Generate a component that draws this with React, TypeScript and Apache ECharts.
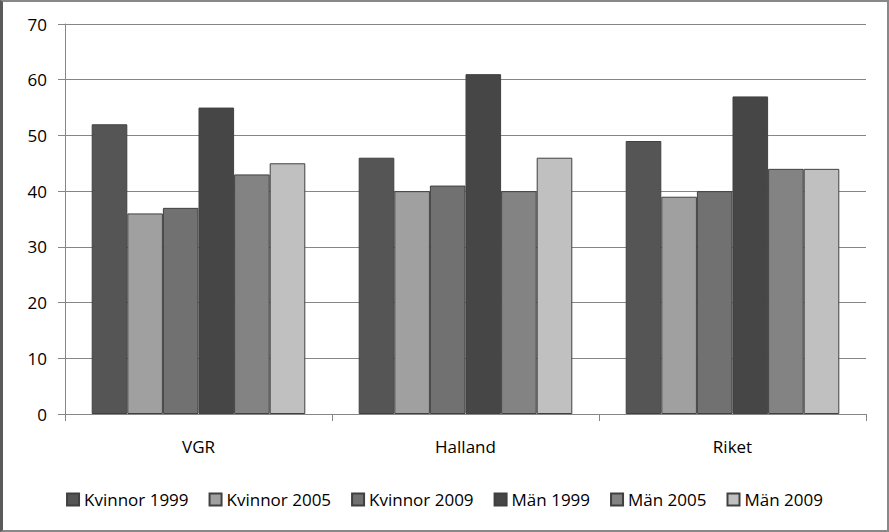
import React, { useEffect, useRef } from "react";
import * as echarts from "echarts";

const categories = ["VGR", "Halland", "Riket"];
const seriesNames = ["Kvinnor 1999", "Kvinnor 2005", "Kvinnor 2009", "Män 1999", "Män 2005", "Män 2009"];
const kvinnor1999 = [52, 46, 49];
const kvinnor2005 = [36, 40, 39];
const kvinnor2009 = [37, 41, 40];
const man1999 = [55, 61, 57];
const man2005 = [43, 40, 44];
const man2009 = [45, 46, 44];
const seriesColors = ["#555555", "#a0a0a0", "#717171", "#464646", "#838383", "#c0c0c0"];

const FONT = "Open Sans";

export default function App() {
  const ref = useRef<HTMLDivElement>(null);
  useEffect(() => {
    if (!ref.current) return;
    const chart = echarts.init(ref.current, null, { renderer: "svg" });
    const values = [kvinnor1999, kvinnor2005, kvinnor2009, man1999, man2005, man2009];
    chart.setOption({
      animation: false,
      backgroundColor: "#ffffff",
      textStyle: { fontFamily: FONT },
      grid: { left: 65, right: 23, top: 24, bottom: 118, containLabel: false },
      legend: {
        bottom: 19,
        left: "center",
        itemWidth: 12,
        itemHeight: 12,
        itemGap: 20,
        icon: "rect",
        textStyle: { fontFamily: FONT, fontSize: 17, color: "#000" },
        data: seriesNames,
      },
      xAxis: {
        type: "category",
        data: categories,
        axisLine: { lineStyle: { color: "#868686", width: 1 } },
        axisTick: { show: true, length: 7, lineStyle: { color: "#868686" } },
        axisLabel: { color: "#000", fontSize: 17, margin: 24, fontFamily: FONT },
      },
      yAxis: {
        type: "value",
        min: 0,
        max: 70,
        interval: 10,
        axisLine: { show: true, lineStyle: { color: "#868686", width: 1 } },
        axisTick: { show: true, length: 7, lineStyle: { color: "#868686" } },
        axisLabel: { color: "#000", fontSize: 17, margin: 18, fontFamily: FONT },
        splitLine: { lineStyle: { color: "#868686", width: 1 } },
      },
      series: seriesNames.map((name, i) => ({
        name,
        type: "bar",
        data: values[i],
        barGap: "0%",
        barCategoryGap: "20%",
        itemStyle: { color: seriesColors[i], borderColor: "#404040", borderWidth: 1 },
      })),
    });
    return () => chart.dispose();
  }, []);
  return (
    <div style={{ position: "fixed", left: 0, top: 0, width: 889, height: 532 }}>
      <div ref={ref} style={{ position: "absolute", left: 0, top: 0, width: 889, height: 532 }} />
      <div
        style={{
          position: "absolute",
          left: 0,
          top: 0,
          width: 889,
          height: 532,
          boxSizing: "border-box",
          borderLeft: "3px solid #5a5a5a",
          borderTop: "2px solid #888888",
          borderRight: "2px solid #888888",
          borderBottom: "2px solid #888888",
          pointerEvents: "none",
        }}
      />
    </div>
  );
}
